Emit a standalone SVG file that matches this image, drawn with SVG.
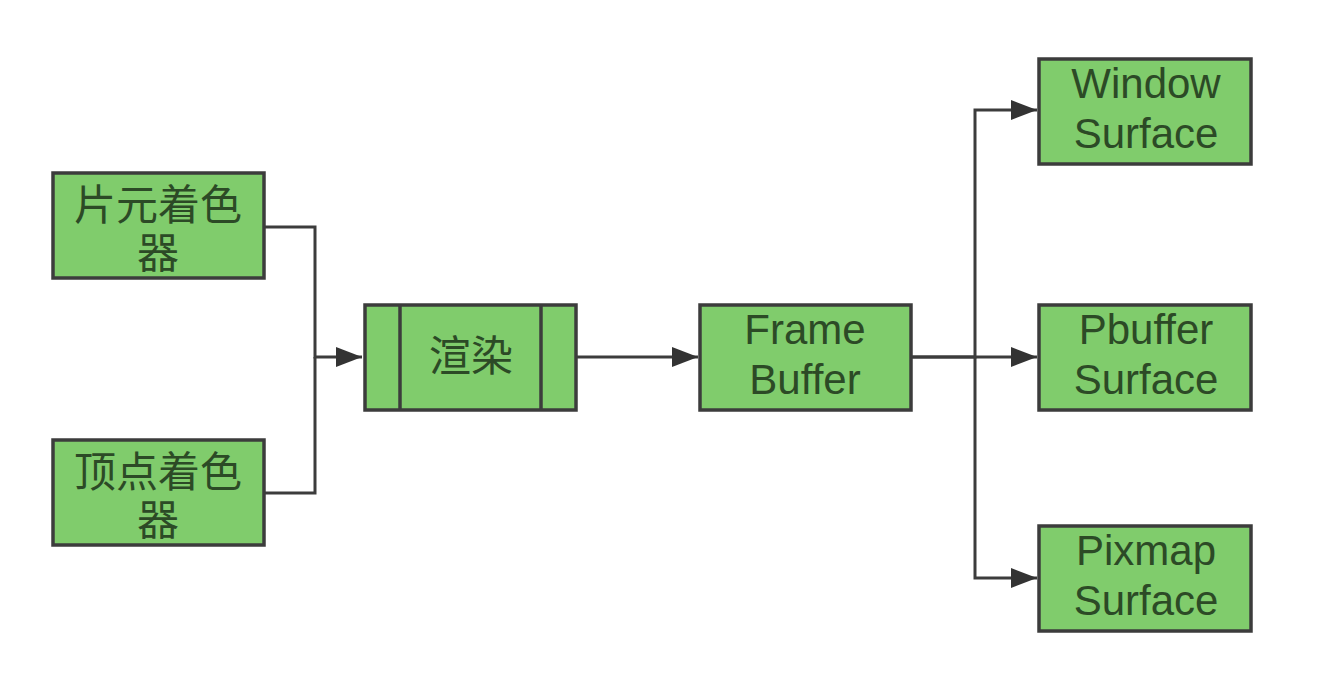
<svg xmlns="http://www.w3.org/2000/svg" width="1324" height="688" viewBox="0 0 1324 688">
<style>
.box{fill:#80cc6c;stroke:#3c3c3c;stroke-width:3.5}
.sep{stroke:#3c3c3c;stroke-width:3.5;fill:none}
.lbl{font-family:"Liberation Sans","Noto Sans CJK SC",sans-serif;font-size:42px;fill:#2c4a26;text-anchor:middle}
.edge{fill:none;stroke:#3c3c3c;stroke-width:3}
</style>
<defs>
<marker id="arr" markerUnits="userSpaceOnUse" markerWidth="28" markerHeight="24" refX="26" refY="12" orient="auto">
<path d="M0,2 L26,12 L0,22 Z" fill="#333"/>
</marker>
</defs>
<rect width="1324" height="688" fill="#fff"/>
<g id="connectors">
<path class="edge" d="M264,227 H315 V357 H362" marker-end="url(#arr)"/>
<path class="edge" d="M264,493 H315 V357"/>
<path class="edge" d="M576,357 H698" marker-end="url(#arr)"/>
<path class="edge" d="M912,357 H975 V110 H1037" marker-end="url(#arr)"/>
<path class="edge" d="M912,357 H1037" marker-end="url(#arr)"/>
<path class="edge" d="M975,357 V578 H1037" marker-end="url(#arr)"/>
</g>
<g id="fragment-shader">
<rect class="box" x="53" y="173" width="211" height="105"/>
<text class="lbl" x="158" y="220">片元着色</text>
<text class="lbl" x="158" y="268">器</text>
</g>
<g id="vertex-shader">
<rect class="box" x="53" y="440" width="211" height="105"/>
<text class="lbl" x="158" y="487">顶点着色</text>
<text class="lbl" x="158" y="535">器</text>
</g>
<g id="render">
<rect class="box" x="365" y="305" width="211" height="105"/>
<line class="sep" x1="400" y1="305" x2="400" y2="410"/>
<line class="sep" x1="541" y1="305" x2="541" y2="410"/>
<text class="lbl" x="471" y="371">渲染</text>
</g>
<g id="frame-buffer">
<rect class="box" x="700" y="305" width="211" height="105"/>
<text class="lbl" x="805" y="344">Frame</text>
<text class="lbl" x="805" y="394">Buffer</text>
</g>
<g id="window-surface">
<rect class="box" x="1039" y="59" width="212" height="105"/>
<text class="lbl" x="1146" y="98">Window</text>
<text class="lbl" x="1146" y="148">Surface</text>
</g>
<g id="pbuffer-surface">
<rect class="box" x="1039" y="305" width="212" height="105"/>
<text class="lbl" x="1146" y="344">Pbuffer</text>
<text class="lbl" x="1146" y="394">Surface</text>
</g>
<g id="pixmap-surface">
<rect class="box" x="1039" y="526" width="212" height="105"/>
<text class="lbl" x="1146" y="565">Pixmap</text>
<text class="lbl" x="1146" y="615">Surface</text>
</g>
</svg>
